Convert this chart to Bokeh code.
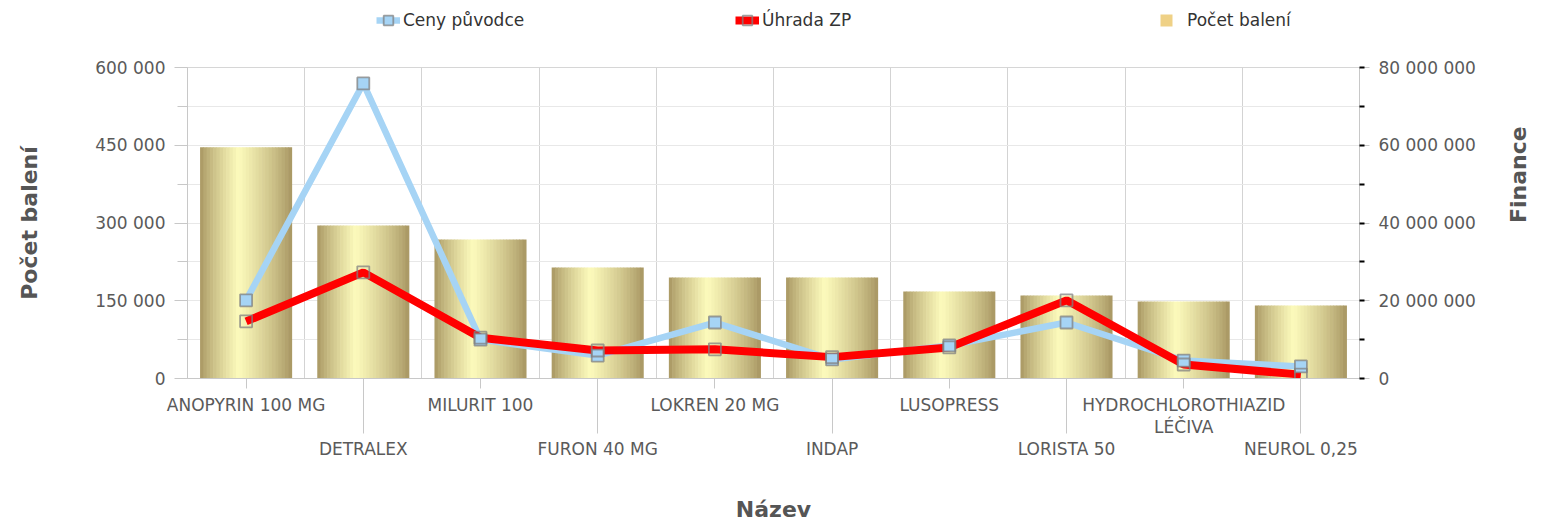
import math
import numpy as np
from bokeh.plotting import figure
from bokeh.layouts import column
from bokeh.models import (Range1d, LinearAxis, FixedTicker, SingleIntervalTicker,
                          CustomJSTickFormatter, Legend, LegendItem, ColumnDataSource)
from bokeh.embed import file_html
from bokeh.resources import INLINE

# ---- data ----
names = ["ANOPYRIN 100 MG", "DETRALEX", "MILURIT 100", "FURON 40 MG", "LOKREN 20 MG",
         "INDAP", "LUSOPRESS", "LORISTA 50", "HYDROCHLOROTHIAZID\nLÉČIVA", "NEUROL 0,25"]
pocet_baleni = [446000, 295000, 268000, 214000, 195000, 195000, 168000, 160000, 148500, 141000]
ceny_puvodce = [20.1e6, 75.9e6, 10.0e6, 5.9e6, 14.4e6, 4.9e6, 8.5e6, 14.4e6, 4.6e6, 3.1e6]
uhrada_zp = [14.7e6, 27.3e6, 10.5e6, 7.2e6, 7.5e6, 5.5e6, 8.0e6, 20.1e6, 3.6e6, 1.0e6]
left_max = 600000
right_max = 80000000

FONT = "DejaVu Sans"
TICK_COLOR = "#5a5a5a"
TICK_SIZE = "17px"
TITLE_SIZE = "22px"
blue = "#a6d4f5"
red = "#ff0000"
gold = "#efd186"

n = len(names)
centers = np.arange(n) + 0.5

W = 1546
LEG_H = 40
H = 528 - LEG_H
p = figure(width=W, height=H, x_range=Range1d(0, n), y_range=Range1d(0, left_max),
           output_backend="svg", toolbar_location=None,
           min_border_left=187, min_border_right=W - 1360, min_border_top=67 - LEG_H,
           min_border_bottom=H - (378 - LEG_H))
p.extra_y_ranges = {"fin": Range1d(0, right_max)}
p.outline_line_color = "#d6d6d6"
p.background_fill_color = "white"

# ---- bars with a horizontal metallic gradient ----
N = 28
bw = 0.78
dark = np.array([166, 148, 96])
light = np.array([253, 251, 188])
peak = 0.42
xs, tops, cols = [], [], []
sw = bw / N
for k in range(N):
    t = (k + 0.5) / N
    f = 1 - (peak - t) / peak if t < peak else 1 - (t - peak) / (1 - peak)
    f = f ** 0.8
    c = dark + (light - dark) * f
    col = "#%02x%02x%02x" % tuple(int(round(v)) for v in c)
    for i in range(n):
        xs.append(centers[i] - bw / 2 + (k + 0.5) * sw)
        tops.append(pocet_baleni[i])
        cols.append(col)
bar_src = ColumnDataSource(dict(x=xs, top=tops, color=cols))
p.vbar(x="x", top="top", width=sw * 1.2, bottom=0, source=bar_src,
       fill_color="color", line_color=None)

# ---- lines ----
line_blue = dict(line_color=blue, line_width=6.5)
line_red = dict(line_color=red, line_width=8)
mk_blue = dict(marker="square", size=12, fill_color=blue, line_color="#808080",
               line_alpha=0.75, line_width=1.8)
mk_red = dict(marker="square", size=12, fill_alpha=0, line_color="#808080",
              line_alpha=0.75, line_width=1.8)
p.line(centers, ceny_puvodce, y_range_name="fin", **line_blue)
p.line(centers, uhrada_zp, y_range_name="fin", **line_red)
p.scatter(centers, ceny_puvodce, y_range_name="fin", **mk_blue)
p.scatter(centers, uhrada_zp, y_range_name="fin", **mk_red)

# ---- x axis ----
xlab = [(" \n \n" + s) if i % 2 else s for i, s in enumerate(names)]
xa = p.xaxis[0]
xa.ticker = FixedTicker(ticks=list(centers), minor_ticks=list(centers[1::2]))
xa.formatter = CustomJSTickFormatter(args=dict(labels=xlab),
                                     code="return labels[Math.floor(tick)]")
xa.major_tick_in = 0
xa.major_tick_out = 10
xa.minor_tick_in = 0
xa.minor_tick_out = 55
xa.major_label_standoff = -39
xa.axis_line_color = "#c8c8c8"
xa.major_tick_line_color = "#c8c8c8"
xa.minor_tick_line_color = "#c8c8c8"
xa.major_label_text_font = FONT
xa.major_label_text_font_size = TICK_SIZE
xa.major_label_text_color = TICK_COLOR
xa.major_label_text_line_height = 1.11
xa.axis_label = "Název"
xa.axis_label_text_font = FONT
xa.axis_label_text_font_size = TITLE_SIZE
xa.axis_label_text_font_style = "bold"
xa.axis_label_text_color = "#555555"
xa.axis_label_standoff = 35

p.xgrid.ticker = FixedTicker(ticks=list(range(0, n + 1)))
p.xgrid.grid_line_color = "#d3d3d3"

fmt_js = "return Math.round(tick).toString().replace(/\\B(?=(\\d{3})+(?!\\d))/g, ' ')"

# ---- left axis ----
lt = SingleIntervalTicker(interval=150000, num_minor_ticks=2)
ya = p.yaxis[0]
ya.ticker = lt
p.ygrid.ticker = lt
ya.formatter = CustomJSTickFormatter(code=fmt_js)
ya.major_tick_in = 0
ya.major_tick_out = 13
ya.minor_tick_in = 0
ya.minor_tick_out = 10
ya.major_label_standoff = 9
ya.axis_line_color = "#c8c8c8"
ya.major_tick_line_color = "#c8c8c8"
ya.minor_tick_line_color = "#c8c8c8"
ya.major_label_text_font = FONT
ya.major_label_text_font_size = TICK_SIZE
ya.major_label_text_color = TICK_COLOR
ya.axis_label = "Počet balení"
ya.axis_label_text_font = FONT
ya.axis_label_text_font_size = TITLE_SIZE
ya.axis_label_text_font_style = "bold"
ya.axis_label_text_color = "#555555"
ya.axis_label_standoff = 50
p.ygrid.grid_line_color = "#e8e8e8"
p.ygrid.minor_grid_line_color = "#e8e8e8"

# ---- right axis ----
ra = LinearAxis(y_range_name="fin",
                ticker=SingleIntervalTicker(interval=20000000, num_minor_ticks=2),
                formatter=CustomJSTickFormatter(code=fmt_js))
ra.major_tick_in = 0
ra.major_tick_out = 10
ra.minor_tick_in = 0
ra.minor_tick_out = 5
ra.minor_tick_line_width = 2
ra.minor_tick_line_color = "black"
ra.major_label_standoff = 9
ra.axis_line_color = "#c8c8c8"
ra.major_tick_line_color = "#c8c8c8"
ra.major_label_text_font = FONT
ra.major_label_text_font_size = TICK_SIZE
ra.major_label_text_color = TICK_COLOR
ra.axis_label = "Finance"
ra.axis_label_orientation = math.pi / 2
ra.axis_label_text_font = FONT
ra.axis_label_text_font_size = TITLE_SIZE
ra.axis_label_text_font_style = "bold"
ra.axis_label_text_color = "#555555"
ra.axis_label_standoff = 40
p.add_layout(ra, "right")

# ---- legend strip above the chart (its frame is aligned with the chart frame) ----
lf = figure(width=W, height=LEG_H, x_range=Range1d(0, 1), y_range=Range1d(0, 1),
            x_axis_type=None, y_axis_type=None, output_backend="svg",
            toolbar_location=None, min_border=0, outline_line_color=None)
lf.xgrid.visible = False
lf.ygrid.visible = False
off = dict(x=[-10], y=[-10])
r1 = [lf.line(**off, **line_blue), lf.scatter(**off, **mk_blue)]
r2 = [lf.line(**off, **line_red), lf.scatter(**off, **mk_red)]
r3 = [lf.scatter(**off, marker="square", fill_color=gold, line_color=None)]


def mk_leg(label, rends, loc, gw, gh, standoff):
    lg = Legend(items=[LegendItem(label=label, renderers=rends)], location=loc,
                orientation="horizontal", glyph_width=gw, glyph_height=gh,
                label_standoff=standoff, padding=0, margin=0, spacing=0,
                border_line_color=None, background_fill_alpha=0,
                label_text_font=FONT, label_text_font_size="17px",
                label_text_color="#333333")
    lf.add_layout(lg)


mk_leg("Ceny původce", r1, (189, 5), 24, 30, 3)
mk_leg("Úhrada ZP", r2, (548, 5), 24, 30, 3)
mk_leg("Počet balení", r3, (964, 5), 30, 30, 6)

layout = column(lf, p, spacing=0)
open("out.html", "w").write(file_html(layout, INLINE))
